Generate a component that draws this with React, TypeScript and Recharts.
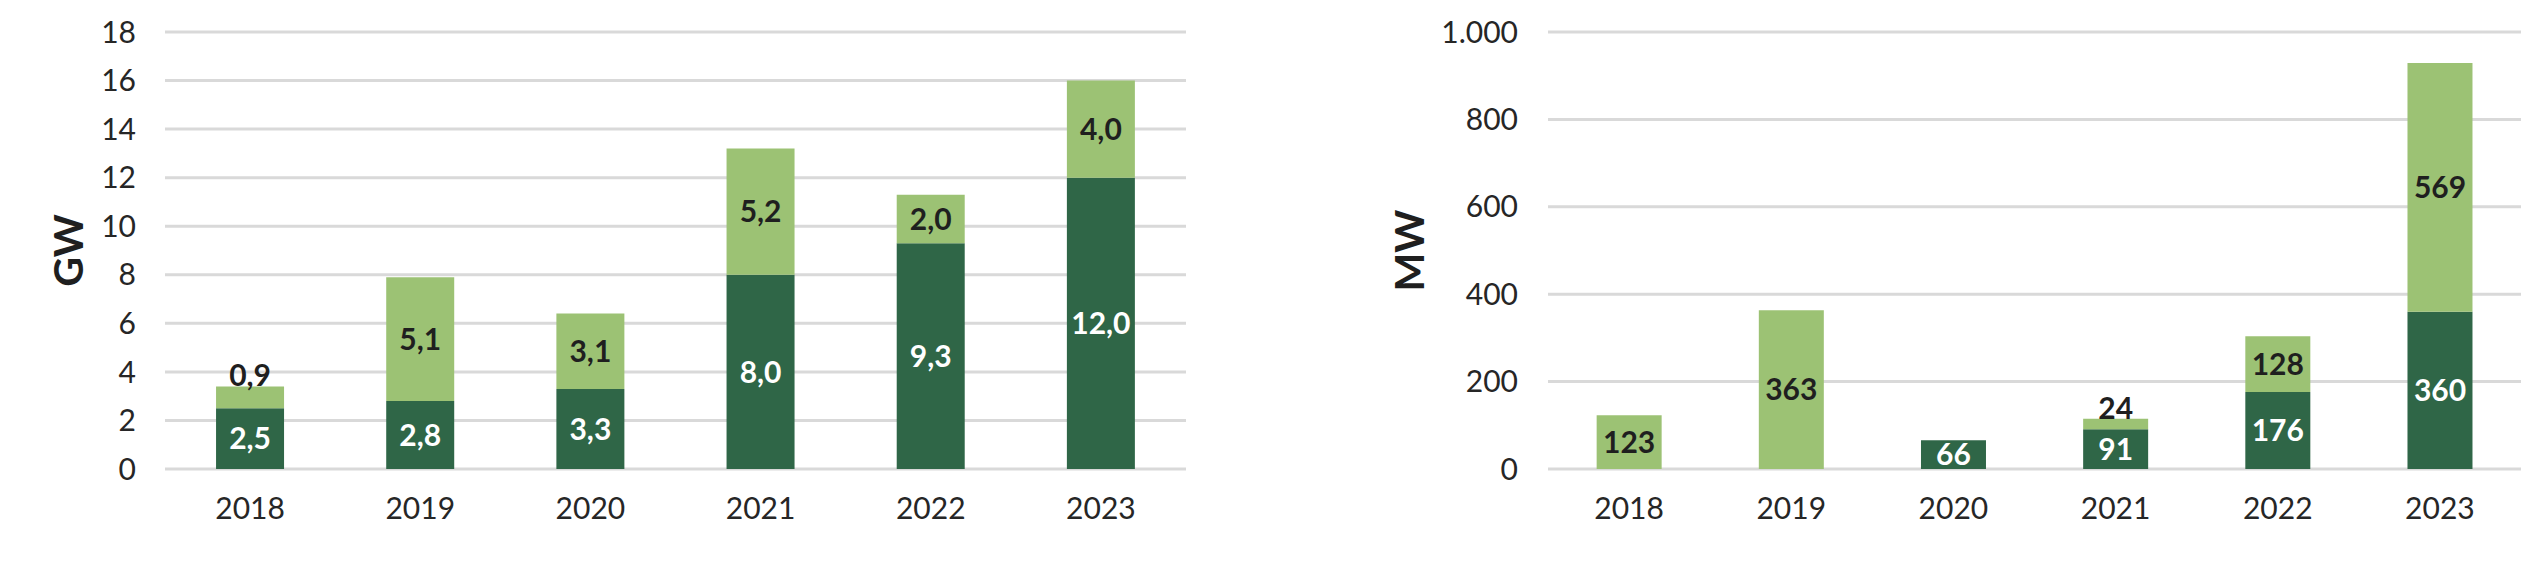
import React from "react";
import {
  BarChart,
  Bar,
  XAxis,
  YAxis,
  CartesianGrid,
  LabelList,
} from "recharts";

const years = ["2018", "2019", "2020", "2021", "2022", "2023"];

// left panel, GW
const gwDark = [2.5, 2.8, 3.3, 8.0, 9.3, 12.0];
const gwLight = [0.9, 5.1, 3.1, 5.2, 2.0, 4.0];
const gwTicks = [0, 2, 4, 6, 8, 10, 12, 14, 16, 18];

// right panel, MW
const mwDark = [0, 0, 66, 91, 176, 360];
const mwLight = [123, 363, 0, 24, 128, 569];
const mwTicks = [0, 200, 400, 600, 800, 1000];

const DARK = "#2f6647";
const LIGHT = "#9cc274";
const TEXT = "#1f1f1f";
const FONT = "Lato, 'Open Sans', sans-serif";

const gwData = years.map((year, i) => ({ year, dark: gwDark[i], light: gwLight[i] }));
const mwData = years.map((year, i) => ({ year, dark: mwDark[i], light: mwLight[i] }));

const fmtGw = (v: number) => v.toFixed(1).replace(".", ",");
const fmtMw = (v: number) => String(Math.round(v));
const fmtThousands = (v: number) => String(v).replace(/\B(?=(\d{3})+(?!\d))/g, ".");

const makeLabel = (color: string, fmt: (v: number) => string) => (props: any) => {
  const value = Number(props.value);
  if (!value) return null;
  const x = Number(props.x);
  const y = Number(props.y);
  const w = Number(props.width);
  const h = Number(props.height);
  // very thin segments get their label lifted above the bar top
  const small = h < 25;
  const cy = small ? y - 11 : y + h / 2;
  return (
    <text
      x={x + w / 2}
      y={cy}
      dy="0.36em"
      textAnchor="middle"
      fill={small ? TEXT : color}
      fontFamily={FONT}
      fontWeight={700}
      fontSize={30}
    >
      {fmt(value)}
    </text>
  );
};

const tickStyle = { fill: "#262626", fontSize: 30, fontFamily: FONT };

type PanelProps = {
  data: { year: string; dark: number; light: number }[];
  width: number;
  axisWidth: number;
  rightMargin: number;
  titleOffset: number;
  tickMargin: number;
  ticks: number[];
  unit: string;
  fmt: (v: number) => string;
  tickFmt: (v: number) => string;
};

function Panel(p: PanelProps) {
  return (
    <BarChart
      width={p.width}
      height={565}
      data={p.data}
      margin={{ top: 32, right: p.rightMargin, bottom: 36, left: 0 }}
      barCategoryGap="30%"
    >
      <CartesianGrid vertical={false} stroke="#d9d9d9" strokeWidth={3} />
      <XAxis
        dataKey="year"
        axisLine={false}
        tickLine={false}
        tickSize={0}
        tickMargin={29}
        height={60}
        tick={tickStyle}
        interval={0}
      />
      <YAxis
        type="number"
        domain={[0, p.ticks[p.ticks.length - 1]]}
        ticks={p.ticks}
        axisLine={false}
        tickLine={false}
        tickSize={0}
        tickMargin={p.tickMargin}
        width={p.axisWidth}
        tick={tickStyle}
        tickFormatter={p.tickFmt}
        label={{
          value: p.unit,
          angle: -90,
          position: "insideLeft",
          offset: p.titleOffset,
          style: {
            textAnchor: "middle",
            fill: TEXT,
            fontSize: 41,
            fontWeight: 700,
            fontFamily: FONT,
          },
        }}
      />
      <Bar dataKey="dark" stackId="a" fill={DARK} isAnimationActive={false}>
        <LabelList dataKey="dark" content={makeLabel("#ffffff", p.fmt)} />
      </Bar>
      <Bar dataKey="light" stackId="a" fill={LIGHT} isAnimationActive={false}>
        <LabelList dataKey="light" content={makeLabel(TEXT, p.fmt)} />
      </Bar>
    </BarChart>
  );
}

export default function App() {
  return (
    <div
      style={{
        position: "absolute",
        left: 0,
        top: 0,
        width: 2537,
        height: 565,
        background: "#ffffff",
      }}
    >
      <div style={{ position: "absolute", left: 0, top: 0 }}>
        <Panel
          data={gwData}
          width={1240}
          axisWidth={165}
          rightMargin={54}
          titleOffset={68}
          tickMargin={29}
          ticks={gwTicks}
          unit="GW"
          fmt={fmtGw}
          tickFmt={(v) => String(v)}
        />
      </div>
      <div style={{ position: "absolute", left: 1290, top: 0 }}>
        <Panel
          data={mwData}
          width={1247}
          axisWidth={258}
          rightMargin={16}
          titleOffset={119}
          tickMargin={30}
          ticks={mwTicks}
          unit="MW"
          fmt={fmtMw}
          tickFmt={fmtThousands}
        />
      </div>
    </div>
  );
}
